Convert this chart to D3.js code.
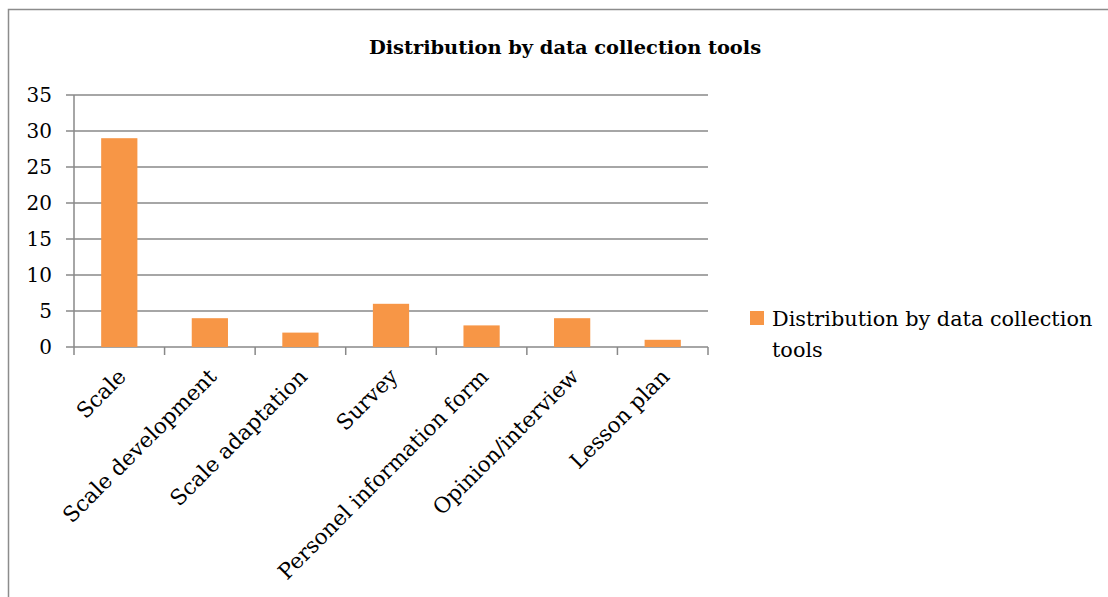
<!DOCTYPE html>
<html>
<head>
<meta charset="utf-8">
<script src="https://cdn.jsdelivr.net/npm/d3@7"></script>
<style>
  body { margin: 0; background: #fff; }
  svg text { font-family: "DejaVu Serif", "Liberation Serif", serif; fill: #000; }
</style>
</head>
<body>
<svg id="chart" width="1108" height="597"></svg>
<script>
// Chart data
var categories = ["Scale", "Scale development", "Scale adaptation", "Survey",
    "Personel information form", "Opinion/interview", "Lesson plan"];
var counts = [29, 4, 2, 6, 3, 4, 1];
var yTicks = [0, 5, 10, 15, 20, 25, 30, 35];
var seriesName = "Distribution by data collection tools";

var svg = d3.select("#chart");

// Outer frame (left and top edges are visible in the reference)
svg.append("rect")
    .attr("x", 8.5).attr("y", 9.5)
    .attr("width", 1110).attr("height", 600)
    .style("fill", "none")
    .style("stroke", "#8c8c8c")
    .style("stroke-width", 1.5);

// Plot area
var plot = { left: 74, right: 708, top: 95, bottom: 347 };

var x = d3.scaleBand()
    .domain(categories)
    .range([plot.left, plot.right])
    .paddingInner(0.6)
    .paddingOuter(0.3);

var y = d3.scaleLinear()
    .domain([0, 35])
    .range([plot.bottom, plot.top]);

// Horizontal gridlines, extended left to form tick marks
svg.append("g")
    .selectAll("line")
    .data(yTicks)
    .enter()
    .append("line")
        .attr("x1", plot.left - 8)
        .attr("x2", plot.right)
        .attr("y1", function (d) { return y(d); })
        .attr("y2", function (d) { return y(d); })
        .style("stroke", "#888")
        .style("stroke-width", 1.5);

// Y axis line
svg.append("line")
    .attr("x1", plot.left).attr("x2", plot.left)
    .attr("y1", plot.top).attr("y2", plot.bottom)
    .style("stroke", "#888")
    .style("stroke-width", 1.5);

// Y tick labels
svg.append("g")
    .selectAll("text")
    .data(yTicks)
    .enter()
    .append("text")
        .attr("x", 52)
        .attr("y", function (d) { return y(d); })
        .attr("dy", "0.36em")
        .attr("text-anchor", "end")
        .style("font-size", "20px")
        .text(function (d) { return d; });

// Bars
svg.append("g")
    .selectAll("rect")
    .data(counts)
    .enter()
    .append("rect")
        .attr("x", function (d, i) { return x(categories[i]); })
        .attr("y", function (d) { return y(d); })
        .attr("width", x.bandwidth())
        .attr("height", function (d) { return y(0) - y(d); })
        .style("fill", "#F79646");

// X axis tick marks at band boundaries
var step = x.step();
var boundaries = d3.range(categories.length + 1).map(function (i) { return plot.left + i * step; });
svg.append("g")
    .selectAll("line")
    .data(boundaries)
    .enter()
    .append("line")
        .attr("x1", function (d) { return d; })
        .attr("x2", function (d) { return d; })
        .attr("y1", plot.bottom)
        .attr("y2", plot.bottom + 8)
        .style("stroke", "#888")
        .style("stroke-width", 1.5);

// Rotated category labels
svg.append("g")
    .selectAll("text")
    .data(categories)
    .enter()
    .append("text")
        .attr("text-anchor", "end")
        .attr("transform", function (d) {
            var cx = x(d) + x.bandwidth() / 2 + 8;
            return "translate(" + cx + "," + (plot.bottom + 31) + ") rotate(-45)";
        })
        .style("font-size", "21.5px")
        .text(function (d) { return d; });

// Title
svg.append("text")
    .attr("x", 565)
    .attr("y", 54)
    .attr("text-anchor", "middle")
    .style("font-size", "19.4px")
    .style("font-weight", "bold")
    .text(seriesName);

// Legend
var legend = svg.append("g");
legend.append("rect")
    .attr("x", 750).attr("y", 311)
    .attr("width", 14).attr("height", 14)
    .style("fill", "#F79646");
legend.append("text")
    .attr("x", 772)
    .attr("y", 326)
    .style("font-size", "20.8px")
    .selectAll("tspan")
    .data(["Distribution by data collection", "tools"])
    .enter()
    .append("tspan")
        .attr("x", 772)
        .attr("dy", function (d, i) { return i ? 31 : 0; })
        .text(function (d) { return d; });
</script>
</body>
</html>
